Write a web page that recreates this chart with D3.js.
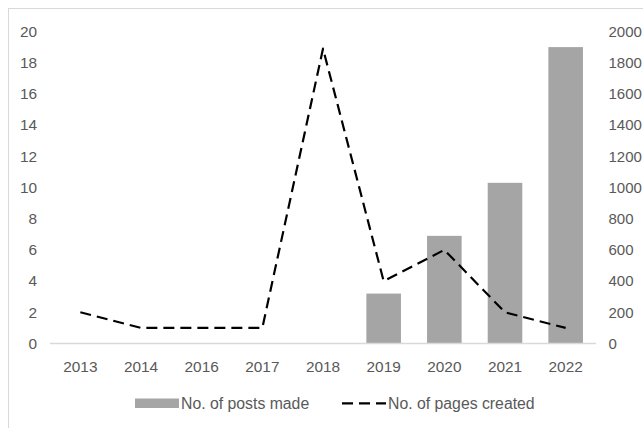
<!DOCTYPE html>
<html><head><meta charset="utf-8">
<script src="https://cdn.jsdelivr.net/npm/d3@7"></script>
<style>
body{margin:0;background:#fff;}
svg{display:block;font-family:"Liberation Sans",Arial,sans-serif;}
</style></head>
<body><svg id="chart" width="643" height="428"></svg>
<script>
const years = ["2013","2014","2016","2017","2018","2019","2020","2021","2022"];
const postsMade = [0,0,0,0,0,3.2,6.9,10.3,19];
const pagesCreated = [200,100,100,100,1890,400,600,200,100];
const leftTicks = [0,2,4,6,8,10,12,14,16,18,20];
const rightTicks = [0,200,400,600,800,1000,1200,1400,1600,1800,2000];
const seriesNames = ["No. of posts made","No. of pages created"];

const svg = d3.select("#chart");
const textColor = "#595959";
const gridColor = "#d9d9d9";

// outer border
svg.append("rect").attr("x",8.5).attr("y",8.5).attr("width",700).attr("height",500)
  .attr("fill","none").attr("stroke",gridColor).attr("stroke-width",1);

const x = d3.scaleBand().domain(years).range([50,596]).paddingInner(0).paddingOuter(0);
const yL = d3.scaleLinear().domain([0,20]).range([343.5,31.5]);
const yR = d3.scaleLinear().domain([0,2000]).range([343.5,31.5]);

// bars
const barW = x.bandwidth()*0.57;
svg.append("g").selectAll("rect").data(years.map((y,i)=>({y,v:postsMade[i]})).filter(d=>d.v>0))
  .join("rect")
  .attr("x",d=>x(d.y)+x.bandwidth()/2-barW/2)
  .attr("width",barW)
  .attr("y",d=>yL(d.v))
  .attr("height",d=>yL(0)-yL(d.v))
  .attr("fill","#a5a5a5");

// x axis line
svg.append("line").attr("x1",50).attr("x2",596).attr("y1",343.5).attr("y2",343.5)
  .attr("stroke",gridColor).attr("stroke-width",1.3);

// x labels
svg.append("g").selectAll("text").data(years).join("text")
  .attr("x",d=>x(d)+x.bandwidth()/2).attr("y",372)
  .attr("text-anchor","middle").attr("fill",textColor).attr("font-size",15.4)
  .text(d=>d);

// left axis labels
svg.append("g").selectAll("text").data(leftTicks).join("text")
  .attr("x",37).attr("y",d=>yL(d)).attr("dy","0.35em")
  .attr("text-anchor","end").attr("fill",textColor).attr("font-size",15.4)
  .text(d=>d);

// right axis labels
svg.append("g").selectAll("text").data(rightTicks).join("text")
  .attr("x",608.5).attr("y",d=>yR(d)).attr("dy","0.35em")
  .attr("text-anchor","start").attr("fill",textColor).attr("font-size",15)
  .text(d=>d);

// line
const line = d3.line().x((d,i)=>x(years[i])+x.bandwidth()/2).y(d=>yR(d));
svg.append("path").datum(pagesCreated).attr("d",line)
  .attr("fill","none").attr("stroke","#000").attr("stroke-width",2.2)
  .attr("stroke-dasharray","11 6").attr("stroke-linejoin","round");

// legend
const lg = svg.append("g");
lg.append("rect").attr("x",135).attr("y",398.5).attr("width",44).attr("height",9.5).attr("fill","#a5a5a5");
lg.append("text").attr("x",181).attr("y",403.5).attr("dy","0.35em").attr("fill",textColor).attr("font-size",15.8).text(seriesNames[0]);
lg.append("line").attr("x1",342).attr("x2",386).attr("y1",403.3).attr("y2",403.3)
  .attr("stroke","#000").attr("stroke-width",2.2).attr("stroke-dasharray","11 6");
lg.append("text").attr("x",388).attr("y",403.5).attr("dy","0.35em").attr("fill",textColor).attr("font-size",15.8).text(seriesNames[1]);
</script></body></html>
